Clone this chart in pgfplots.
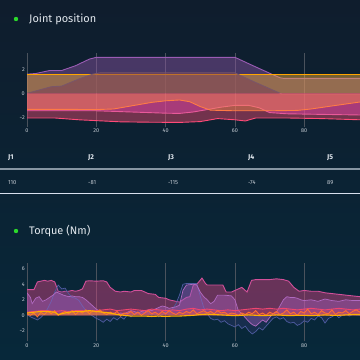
\documentclass[border=0pt]{standalone}
\usepackage{pgfplots}
\usepackage{pgfplotstable}
\pgfplotsset{compat=1.18}
\usepackage{fontspec}
\setmainfont{Fira Sans}
\definecolor{bgtop}{HTML}{0F1D2D}
\definecolor{bgbot}{HTML}{07283A}
\definecolor{gridc}{HTML}{4A525C}
\definecolor{tickc}{HTML}{C5CCD4}
\definecolor{titlec}{HTML}{E2E8EE}
\definecolor{dotc}{HTML}{2BD92B}
\definecolor{jpurple}{HTML}{8F55A7}
\definecolor{jpurpleL}{HTML}{9A5CB4}
\definecolor{jmauve}{HTML}{73355C}
\definecolor{jmauveL}{HTML}{7A5668}
\definecolor{jorange}{HTML}{F3AD37}
\definecolor{jorangeL}{HTML}{FFA500}
\definecolor{jred}{HTML}{F04A70}
\definecolor{jredL}{HTML}{FF4A78}
\definecolor{jpink}{HTML}{E948AF}
\definecolor{jpinkL}{HTML}{E85A9A}
\definecolor{jor}{HTML}{F78A4B}
\definecolor{jorL}{HTML}{FF7A45}
\definecolor{tmag}{HTML}{DC4584}
\definecolor{tmagL}{HTML}{D2509A}
\definecolor{tlav}{HTML}{B064C8}
\definecolor{tlavL}{HTML}{B06AC0}
\definecolor{tblue}{HTML}{4D4A9C}
\definecolor{tblueL}{HTML}{4E5BA0}
\definecolor{tyel}{HTML}{FFB000}
\definecolor{tora}{HTML}{FF6E32}
\definecolor{tpink}{HTML}{F04670}
\pgfplotsset{
  dash/.style={
    scale only axis, axis line style={draw=none},
    xmin=0, xmax=96.1, xtick={0,20,40,60,80},
    xmajorgrids, grid style={gridc, line width=0.8bp},
    major tick length=0pt,
    ticklabel style={font=\fontsize{5.5}{6}\selectfont, text=tickc},
    /pgf/number format/assume math mode=true,
    xticklabel style={inner sep=0pt, yshift=-2bp},
    yticklabel style={inner sep=0pt, xshift=-2bp},
  },
  fl/.style 2 args={fill=#1, draw=none, fill opacity=#2},
  ln/.style={draw=#1, line width=0.9bp},
}
% ----- Joint position data (rad) -----
\pgfplotstableread[row sep=\\]{x y\\ 0 1.6\\ 2.5 1.65\\ 6.5 1.9\\ 10 1.9\\ 14 2.3\\ 18 2.85\\ 20 3.0\\ 21 3.0\\ 60 3.0\\ 66 2.2\\ 71 1.55\\ 73 1.3\\ 74 1.25\\ 96.1 1.25\\}\jA
\pgfplotstableread[row sep=\\]{x y\\ 0 0\\ 7 0.55\\ 10 0.6\\ 15 1.2\\ 19 1.6\\ 21 1.7\\ 60 1.7\\ 66 0.9\\ 73.5 -0.05\\ 96.1 -0.05\\}\jB
\pgfplotstableread[row sep=\\]{x y\\ 0 -2.05\\ 8 -2.05\\ 15 -2.2\\ 27 -2.37\\ 35 -2.4\\ 44 -2.42\\ 50 -2.35\\ 55 -2.1\\ 60 -2.2\\ 63 -2.3\\ 66 -2.05\\ 75 -2.05\\ 85 -2.1\\ 96.1 -2.2\\}\jC
\pgfplotstableread[row sep=\\]{x y\\ 0 -1.33\\ 10 -1.33\\ 20 -1.35\\ 25 -1.3\\ 28 -1.15\\ 32 -0.95\\ 36 -0.75\\ 40 -0.62\\ 44 -0.55\\ 47 -0.7\\ 50 -1.1\\ 53 -1.4\\ 60 -1.45\\ 70 -1.45\\ 78 -1.42\\ 82 -1.3\\ 88 -1.05\\ 96.1 -0.72\\}\jD
\pgfplotstableread[row sep=\\]{x y\\ 0 1.58\\ 96.1 1.58\\}\jE
\pgfplotstableread[row sep=\\]{x y\\ 0 -1.45\\ 10 -1.45\\ 20 -1.45\\ 30 -1.55\\ 40 -1.65\\ 44 -1.67\\ 48 -1.55\\ 52 -1.35\\ 56 -1.15\\ 60 -1.0\\ 64 -1.0\\ 67 -1.2\\ 70 -1.6\\ 75 -1.7\\ 85 -1.75\\ 96.1 -1.8\\}\jF
% ----- Torque data (Nm) -----
\pgfplotstableread[row sep=\\]{x y\\ 0 3.3\\ 2 3.3\\ 3 4.3\\ 4 4.4\\ 5 4.5\\ 6 4.4\\ 7 4.5\\ 8 4.3\\ 9 3.1\\ 10 3.0\\ 11 3.1\\ 12 3.1\\ 13 3.2\\ 14 3.1\\ 15 3.2\\ 16 3.4\\ 17 4.4\\ 18 4.45\\ 20 4.4\\ 22 4.45\\ 23 4.3\\ 24 3.6\\ 25.5 3.1\\ 27 3.0\\ 28 3.1\\ 30 3.0\\ 31 3.2\\ 33 3.2\\ 34 3.0\\ 35 2.8\\ 37 2.7\\ 38 2.3\\ 40 2.2\\ 41 2.0\\ 42 1.9\\ 44 1.7\\ 45 2.0\\ 46 2.3\\ 47 2.4\\ 48 3.9\\ 49 4.0\\ 50.5 4.8\\ 51.5 4.1\\ 52 3.9\\ 54 3.9\\ 56.5 3.9\\ 57.5 3.0\\ 59 3.0\\ 60 3.2\\ 62 3.6\\ 63.5 3.0\\ 64.8 4.5\\ 66 4.6\\ 68 4.6\\ 70 4.6\\ 72 4.7\\ 74 4.6\\ 75.5 4.4\\ 77 3.6\\ 78.5 3.1\\ 80 3.2\\ 82 3.1\\ 84 3.1\\ 86 2.9\\ 88 2.8\\ 90 2.7\\ 92 2.6\\ 94 2.5\\ 96.1 2.4\\}\tA
\pgfplotstableread[row sep=\\]{x y\\ 0 2.9\\ 1 2.3\\ 1.5 1.5\\ 2.5 2.2\\ 3.5 2.4\\ 4.5 1.8\\ 5.5 2.0\\ 6.5 2.3\\ 7.5 2.6\\ 8.5 3.0\\ 9.5 2.8\\ 10.5 2.6\\ 12 2.4\\ 13 2.5\\ 14 2.4\\ 15 2.4\\ 16 2.3\\ 17 2.0\\ 18 1.6\\ 19 1.2\\ 20 0.8\\ 21 0.5\\ 22 0.3\\ 23 0.4\\ 24 0.2\\ 25 0.3\\ 26 0.1\\ 27 0.3\\ 28 0.2\\ 29 0.4\\ 30 0.6\\ 31 0.5\\ 32 0.3\\ 33 0.5\\ 34 0.4\\ 35 0.7\\ 36 0.6\\ 37 0.8\\ 38 1.0\\ 39 1.2\\ 40 1.1\\ 41 0.9\\ 42 1.0\\ 43 1.1\\ 44 1.3\\ 45 3.2\\ 46 3.9\\ 48 4.0\\ 49 3.9\\ 50 3.0\\ 51 2.4\\ 52 2.0\\ 53 1.5\\ 54 1.8\\ 55 2.6\\ 57 2.6\\ 59 2.5\\ 60 2.0\\ 61 0.6\\ 62 0.2\\ 63 -0.3\\ 64 -0.8\\ 65 -1.2\\ 66 -1.4\\ 67 -1.0\\ 68 -0.6\\ 69 -0.9\\ 70 -0.3\\ 71 0.2\\ 72 0.4\\ 73 1.2\\ 74 2.0\\ 75 2.4\\ 76 2.3\\ 77 2.3\\ 78 2.2\\ 79 2.0\\ 80 1.9\\ 82 2.0\\ 84 1.8\\ 86 2.1\\ 88 1.9\\ 90 1.8\\ 92 2.0\\ 94 1.9\\ 96.1 1.9\\}\tB
\pgfplotstableread[row sep=\\]{x y\\ 0 0.1\\ 1 -0.2\\ 2 -0.4\\ 3 -0.6\\ 4 -0.3\\ 5 0.2\\ 6 0.9\\ 7 1.8\\ 8 3.0\\ 9 3.9\\ 10 3.4\\ 11 3.5\\ 12 2.8\\ 13 2.3\\ 14 2.2\\ 15 1.9\\ 16 1.2\\ 17 0.6\\ 18 0.2\\ 19 -0.1\\ 20 -0.4\\ 21 -0.6\\ 22 -0.9\\ 23 -0.5\\ 24 -0.8\\ 25 -0.3\\ 26 -0.6\\ 27 -0.2\\ 28 -0.5\\ 29 0.1\\ 30 -0.2\\ 31 0.3\\ 32 0.5\\ 33 0.2\\ 34 0.6\\ 35 0.3\\ 36 0.0\\ 37 0.4\\ 38 -0.2\\ 39 0.1\\ 40 0.5\\ 41 0.3\\ 42 0.8\\ 43 1.5\\ 44 2.6\\ 45 4.0\\ 46 4.1\\ 49 4.1\\ 50 2.5\\ 51 1.0\\ 52 0.2\\ 53 -0.4\\ 54 -0.6\\ 55 -0.5\\ 56 -0.9\\ 57 -0.7\\ 58 -1.1\\ 59 -1.3\\ 60 -1.5\\ 61 -1.2\\ 62 -1.7\\ 63 -1.4\\ 64 -2.0\\ 65 -2.4\\ 66 -2.1\\ 67 -1.6\\ 68 -1.9\\ 69 -1.4\\ 70 -0.9\\ 71 -0.4\\ 72 -0.2\\ 73 -0.5\\ 74 -0.3\\ 75 -0.8\\ 76 -1.0\\ 77 -0.9\\ 78 -1.3\\ 79 -1.1\\ 80 -0.7\\ 81 -0.9\\ 82 -0.4\\ 83 -0.6\\ 84 -0.1\\ 85 -0.3\\ 86 -1.0\\ 87 -0.4\\ 88 -0.2\\ 89 0.1\\ 90 -0.3\\ 91 0.0\\ 92 0.2\\ 93 -0.1\\ 94 0.1\\ 96.1 0.0\\}\tC
\pgfplotstableread[row sep=\\]{x y\\ 0 0.4\\ 2 0.5\\ 4 0.6\\ 6 0.6\\ 8 0.5\\ 10 0.6\\ 12 0.5\\ 14 0.6\\ 16 0.6\\ 18 0.5\\ 20 0.6\\ 22 0.7\\ 24 0.8\\ 26 0.6\\ 28 0.7\\ 30 0.8\\ 32 0.7\\ 34 0.6\\ 36 0.8\\ 38 0.7\\ 40 0.6\\ 42 0.7\\ 44 0.6\\ 46 0.8\\ 48 0.9\\ 50 0.7\\ 52 0.8\\ 54 0.7\\ 56 0.6\\ 58 0.7\\ 60 0.6\\ 62 0.7\\ 64 0.8\\ 66 0.9\\ 68 0.8\\ 70 0.9\\ 72 0.8\\ 74 0.9\\ 76 0.8\\ 78 0.7\\ 80 0.8\\ 82 0.9\\ 84 0.8\\ 86 0.7\\ 88 0.8\\ 90 0.9\\ 92 0.8\\ 94 0.7\\ 96.1 0.8\\}\tD
\pgfplotstableread[row sep=\\]{x y\\ 0 0.2\\ 1 0.0\\ 2 0.3\\ 3 -0.2\\ 4 0.4\\ 5 0.1\\ 6 0.5\\ 7 0.2\\ 8 0.6\\ 9 0.0\\ 10 0.3\\ 11 0.5\\ 12 0.2\\ 13 0.6\\ 14 0.1\\ 15 0.5\\ 16 0.3\\ 17 0.7\\ 18 0.2\\ 19 0.6\\ 20 0.4\\ 21 0.7\\ 22 0.3\\ 23 0.1\\ 24 0.4\\ 25 0.2\\ 26 0.5\\ 27 -0.1\\ 28 0.3\\ 29 0.2\\ 30 0.5\\ 31 0.1\\ 32 0.4\\ 33 0.0\\ 34 0.3\\ 35 0.6\\ 36 0.2\\ 37 0.4\\ 38 0.1\\ 39 0.5\\ 40 0.2\\ 41 0.6\\ 42 0.3\\ 43 0.1\\ 44 0.4\\ 45 0.2\\ 46 0.5\\ 47 0.3\\ 48 0.7\\ 49 0.2\\ 50 0.4\\ 51 0.6\\ 52 0.3\\ 53 0.5\\ 54 0.2\\ 55 0.6\\ 56 0.3\\ 57 0.4\\ 58 0.1\\ 59 0.3\\ 60 0.2\\ 61 0.0\\ 62 0.3\\ 63 0.1\\ 64 0.4\\ 65 0.2\\ 66 0.6\\ 67 0.1\\ 68 0.3\\ 69 0.0\\ 70 0.4\\ 71 0.2\\ 72 0.5\\ 73 0.1\\ 74 0.3\\ 75 0.7\\ 76 0.2\\ 77 0.4\\ 78 0.0\\ 79 0.5\\ 80 0.3\\ 81 0.8\\ 82 0.2\\ 83 0.4\\ 84 0.1\\ 85 0.6\\ 86 0.3\\ 87 0.2\\ 88 0.7\\ 89 0.1\\ 90 0.4\\ 91 0.3\\ 92 0.6\\ 93 0.2\\ 94 0.5\\ 95 0.7\\ 96.1 0.4\\}\tE
\pgfplotstableread[row sep=\\]{x y\\ 0 0.3\\ 2 0.4\\ 4 0.5\\ 6 0.5\\ 8 0.4\\ 9 0.1\\ 10 0.2\\ 12 0.4\\ 14 0.5\\ 16 0.5\\ 18 0.6\\ 20 0.5\\ 22 0.4\\ 24 0.3\\ 26 0.1\\ 28 0.0\\ 30 -0.1\\ 32 -0.1\\ 34 -0.1\\ 36 -0.15\\ 38 -0.1\\ 40 -0.15\\ 42 -0.1\\ 44 -0.1\\ 46 -0.05\\ 48 0.0\\ 50 0.1\\ 52 0.15\\ 54 0.1\\ 56 0.05\\ 58 0.0\\ 60 -0.05\\ 62 0.0\\ 64 0.05\\ 66 0.0\\ 68 -0.05\\ 70 0.0\\ 72 0.05\\ 74 0.0\\ 76 -0.05\\ 78 0.0\\ 80 0.0\\ 82 -0.05\\ 84 0.0\\ 86 0.05\\ 88 0.0\\ 90 0.0\\ 92 0.05\\ 94 0.1\\ 96.1 0.1\\}\tF
\begin{document}
\begin{tikzpicture}
\useasboundingbox (0bp,0bp) rectangle (360bp,-360bp);
\shade[top color=bgtop, bottom color=bgbot] (0bp,0bp) rectangle (360bp,-360bp);
\begin{scope}[x=1bp,y=1bp]
\fill[dotc] (16,-19) circle (2.2);
\node[anchor=west, inner sep=0pt, text=titlec, font=\fontsize{11}{13}\selectfont] at (29,-19.5) {Joint position};
\fill[dotc] (16,-231) circle (2.2);
\node[anchor=west, inner sep=0pt, text=titlec, font=\fontsize{11}{13}\selectfont] at (29,-231.5) {Torque (Nm)};
\foreach \x/\h/\v in {8/J1/110, 88/J2/-81, 168/J3/-115, 248/J4/-74, 327/J5/89}{
  \node[anchor=base west, inner sep=0pt, text=titlec, font=\bfseries\fontsize{7}{8}\selectfont] at (\x,-159.5) {\h};
  \node[anchor=base west, inner sep=0pt, text=tickc, font=\fontsize{5.8}{7}\selectfont] at (\x,-184) {\v};
}
\draw[color={rgb,255:red,135;green,150;blue,163}, line width=1.2bp] (0,-169) -- (360,-169);
\draw[color={rgb,255:red,216;green,224;blue,238}, line width=0.9bp] (0,-193) -- (360,-193);
\end{scope}

% ---------- Joint position ----------
\begin{axis}[dash, at={(27bp,-127bp)}, anchor=south west, width=333bp, height=74.5bp,
  ymin=-2.8, ymax=3.4, ytick={-2,0,2}, yticklabels={−2,0,2}]
\addplot[fl={jpurple}{0.45}] table {\jA} \closedcycle;
\addplot[ln=jpurpleL] table {\jA};
\addplot[fl={jorange}{0.45}] table {\jE} \closedcycle;
\addplot[ln=jorangeL] table {\jE};
\addplot[fl={jmauve}{0.45}] table {\jB} \closedcycle;
\addplot[ln=jmauveL] table {\jB};
\addplot[fl={jred}{0.45}] table {\jC} \closedcycle;
\addplot[ln=jredL] table {\jC};
\addplot[fl={jpink}{0.45}] table {\jF} \closedcycle;
\addplot[ln=jpinkL] table {\jF};
\addplot[fl={jor}{0.45}] table {\jD} \closedcycle;
\addplot[ln=jorL] table {\jD};
\end{axis}

% ---------- Torque ----------
\begin{axis}[dash, at={(27bp,-341.3bp)}, anchor=south west, width=333bp, height=78bp,
  ymin=-3.35, ymax=6.7, ytick={-2,0,2,4,6}, yticklabels={−2,0,2,4,6}]
\addplot[fl={tmag}{0.45}] table {\tA} \closedcycle;
\addplot[ln=tmagL] table {\tA};
\addplot[fl={tblue}{0.22}] table {\tC} \closedcycle;
\addplot[ln=tblueL, line width=0.7bp] table {\tC};
\addplot[fl={tlav}{0.38}] table {\tB} \closedcycle;
\addplot[ln=tlavL, line width=0.7bp] table {\tB};
\addplot[fl={tpink}{0.25}] table {\tD} \closedcycle;
\addplot[ln=tpink] table {\tD};
\addplot[fl={tora}{0.25}] table {\tE} \closedcycle;
\addplot[ln=tora] table {\tE};
\addplot[fl={tyel}{0.25}] table {\tF} \closedcycle;
\addplot[ln=tyel, line width=1.1bp] table {\tF};
\end{axis}
\end{tikzpicture}
\end{document}
